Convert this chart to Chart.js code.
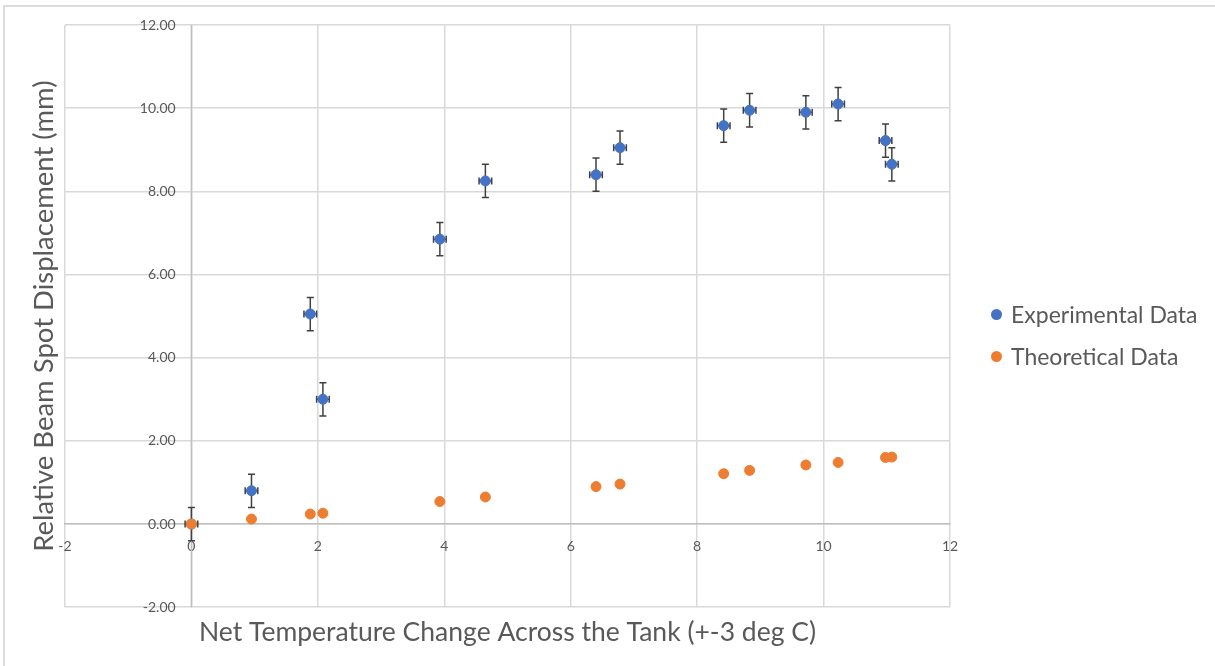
<!DOCTYPE html>
<html>
<head>
<meta charset="utf-8">
<script src="https://cdn.jsdelivr.net/npm/chart.js@4.4.1/dist/chart.umd.min.js"></script>
<style>
  html, body { margin: 0; padding: 0; background: #fff; }
  #wrap { position: absolute; left: 0; top: 0; width: 1215px; height: 666px; }
  #frame { position: absolute; left: 3px; top: 5px; width: 1212px; height: 661px;
           border-top: 2px solid #dcdcdc; border-left: 2px solid #dcdcdc; box-sizing: border-box; }
  #chart { position: absolute; left: 0; top: 0; }
  #legend { position: absolute; left: 991px; top: 293px; font-family: Lato, "Open Sans", sans-serif;
            font-size: 23px; color: #595959; }
  #legend .row { height: 42px; display: flex; align-items: center; white-space: nowrap; }
  #legend .dot { width: 11px; height: 11px; border-radius: 50%; margin-right: 9px; flex: none; }
</style>
</head>
<body>
<div id="wrap">
  <div id="frame"></div>
  <canvas id="chart" width="1215" height="666"></canvas>
  <div id="legend"></div>
</div>
<script>
// Temperatura (x) comum às duas séries
const tempChange = [0, 0.95, 1.88, 2.08, 3.93, 4.65, 6.40, 6.78, 8.42, 8.83, 9.72, 10.23, 10.98, 11.08];
const expDisp = [0, 0.80, 5.05, 3.00, 6.85, 8.25, 8.40, 9.05, 9.58, 9.95, 9.90, 10.10, 9.22, 8.65];
const theoDisp = [0, 0.12, 0.24, 0.26, 0.54, 0.65, 0.90, 0.96, 1.21, 1.29, 1.42, 1.48, 1.60, 1.61];
const xErr = 0.1;
const yErr = 0.4;

const seriesNames = ['Experimental Data', 'Theoretical Data'];
const seriesColors = ['#4472C4', '#ED7D31'];
const axisTitles = ['Net Temperature Change Across the Tank (+-3 deg C)', 'Relative Beam Spot Displacement (mm)'];

const textColor = '#595959';
const gridColor = '#d9d9d9';
const axisColor = '#bfbfbf';
const fontFamily = 'Lato, "Open Sans", sans-serif';

// barras de erro da série experimental (desenhadas antes dos pontos)
const errorBars = {
    id: 'errorBars',
    beforeDatasetDraw(chart, args) {
        if (args.index !== 0) return;
        const ctx = chart.ctx;
        const xs = chart.scales.x, ys = chart.scales.y;
        ctx.save();
        ctx.strokeStyle = '#404040';
        ctx.lineWidth = 1.5;
        const cap = 3.5;
        tempChange.forEach((t, i) => {
            const v = expDisp[i];
            const px = xs.getPixelForValue(t);
            const py = ys.getPixelForValue(v);
            const top = ys.getPixelForValue(v + yErr);
            const bot = ys.getPixelForValue(v - yErr);
            const left = xs.getPixelForValue(t - xErr);
            const right = xs.getPixelForValue(t + xErr);
            ctx.beginPath();
            ctx.moveTo(px, top); ctx.lineTo(px, bot);
            ctx.moveTo(px - cap, top); ctx.lineTo(px + cap, top);
            ctx.moveTo(px - cap, bot); ctx.lineTo(px + cap, bot);
            ctx.moveTo(left, py); ctx.lineTo(right, py);
            ctx.moveTo(left, py - cap); ctx.lineTo(left, py + cap);
            ctx.moveTo(right, py - cap); ctx.lineTo(right, py + cap);
            ctx.stroke();
        });
        ctx.restore();
    }
};

new Chart(document.getElementById('chart'), {
    type: 'scatter',
    data: {
        datasets: [{
            label: seriesNames[0],
            data: tempChange.map((t, i) => ({ x: t, y: expDisp[i] })),
            backgroundColor: seriesColors[0],
            borderColor: seriesColors[0],
            pointRadius: 5,
            order: 1
        }, {
            label: seriesNames[1],
            data: tempChange.map((t, i) => ({ x: t, y: theoDisp[i] })),
            backgroundColor: seriesColors[1],
            borderColor: seriesColors[1],
            pointRadius: 5,
            order: 0
        }]
    },
    options: {
        responsive: false,
        animation: false,
        events: [],
        layout: {
            padding: { left: 24, right: 265, top: 25, bottom: 18 }
        },
        plugins: {
            tooltip: { enabled: false },
            legend: { display: false }
        },
        scales: {
            x: {
                type: 'linear',
                min: -2,
                max: 12,
                position: { y: 0 },
                ticks: { stepSize: 2, color: textColor, padding: 14, font: { family: fontFamily, size: 14 } },
                grid: { color: gridColor, lineWidth: 1.5, drawTicks: false },
                border: { color: axisColor, width: 1.5 }
            },
            y: {
                type: 'linear',
                min: -2,
                max: 12,
                // rótulos afastados um pouco à esquerda do eixo x = 0
                position: { x: -0.25 },
                ticks: {
                    stepSize: 2, color: textColor,
                    font: { family: fontFamily, size: 14 },
                    callback: (v) => v.toFixed(2)
                },
                grid: { color: gridColor, lineWidth: 1.5, drawTicks: false },
                border: { display: false }
            },
            xTitle: {
                type: 'linear',
                axis: 'x',
                position: 'bottom',
                min: 0, max: 1,
                grid: { display: false, drawTicks: false },
                border: { display: false },
                ticks: { display: false },
                title: {
                    display: true,
                    text: axisTitles[0],
                    color: textColor,
                    padding: { top: 9, bottom: 0 },
                    font: { family: fontFamily, size: 26.5 }
                }
            },
            yTitle: {
                type: 'linear',
                axis: 'y',
                position: 'left',
                min: 0, max: 1,
                grid: { display: false, drawTicks: false },
                border: { display: false },
                ticks: { display: false },
                title: {
                    display: true,
                    text: axisTitles[1],
                    color: textColor,
                    padding: { top: 4, bottom: 4 },
                    font: { family: fontFamily, size: 27.5 }
                }
            }
        }
    },
    plugins: [errorBars, {
        // linha do eixo vertical em x = 0
        id: 'zeroLine',
        beforeDatasetsDraw(chart) {
            const { ctx, chartArea, scales } = chart;
            const px = scales.x.getPixelForValue(0);
            ctx.save();
            ctx.strokeStyle = axisColor;
            ctx.lineWidth = 1.5;
            ctx.beginPath();
            ctx.moveTo(px, chartArea.top);
            ctx.lineTo(px, chartArea.bottom);
            ctx.stroke();
            ctx.restore();
        }
    }]
});

// legenda em HTML, na ordem das séries
const legendEl = document.getElementById('legend');
seriesNames.forEach((name, i) => {
    const row = document.createElement('div');
    row.className = 'row';
    const dot = document.createElement('span');
    dot.className = 'dot';
    dot.style.background = seriesColors[i];
    const label = document.createElement('span');
    label.textContent = name;
    row.appendChild(dot);
    row.appendChild(label);
    legendEl.appendChild(row);
});
</script>
</body>
</html>
